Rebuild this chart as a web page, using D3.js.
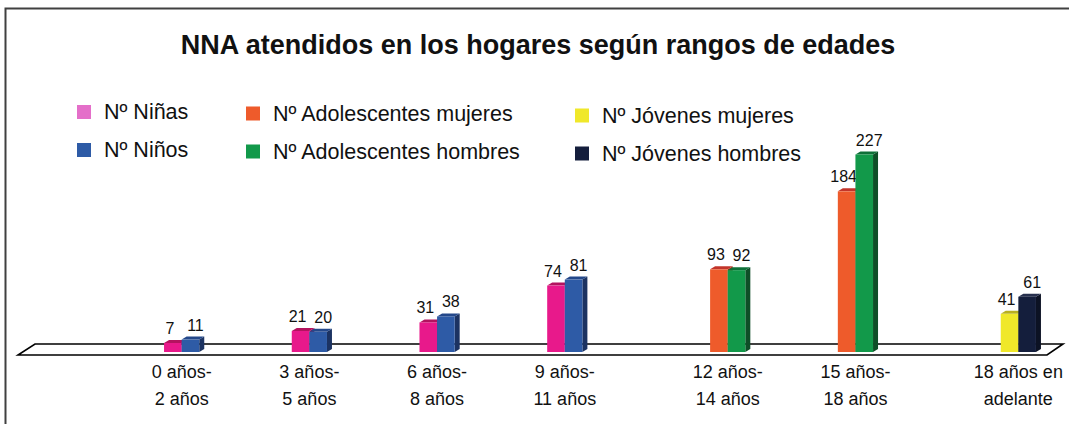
<!DOCTYPE html>
<html>
<head>
<meta charset="utf-8">
<script src="https://cdn.jsdelivr.net/npm/d3@7"></script>
<style>
  body { margin: 0; background: #fff; }
  text { font-family: "Liberation Sans", Arial, Helvetica, sans-serif; fill: #111; }
  .val { font-family: "Liberation Sans Narrow", "Arial Narrow", "Liberation Sans", sans-serif; }
</style>
</head>
<body>
<div id="chart"></div>
<script>
let width = 1069;
let height = 424;

// categories (two-line tick labels)
let categories = [
	["0 años-", "2 años"],
	["3 años-", "5 años"],
	["6 años-", "8 años"],
	["9 años-", "11 años"],
	["12 años-", "14 años"],
	["15 años-", "18 años"],
	["18 años en", "adelante"]
];
let seriesNames = ["Nº Niñas", "Nº Niños", "Nº Adolescentes mujeres", "Nº Adolescentes hombres", "Nº Jóvenes mujeres", "Nº Jóvenes hombres"];
let ninas = [7, 21, 31, 74, null, null, null];
let ninos = [11, 20, 38, 81, null, null, null];
let adolMujeres = [null, null, null, null, 93, 184, null];
let adolHombres = [null, null, null, null, 92, 227, null];
let jovMujeres = [null, null, null, null, null, null, 41];
let jovHombres = [null, null, null, null, null, null, 61];
let seriesValues = [ninas, ninos, adolMujeres, adolHombres, jovMujeres, jovHombres];

// front / side / top colours of each series, plus legend swatch colour
let colors = [
	{front: "#e8198b", side: "#8e0f55", top: "#b3135f", legend: "#e46fc9"},
	{front: "#2e5ba6", side: "#1c3362", top: "#24488a", legend: "#2e5ba6"},
	{front: "#ee5b2b", side: "#9c3415", top: "#c2352a", legend: "#ee5b2b"},
	{front: "#12994a", side: "#0e4e27", top: "#0e7038", legend: "#12994a"},
	{front: "#f0e82a", side: "#9a9418", top: "#b9b020", legend: "#f0e82a"},
	{front: "#141e3c", side: "#0c1224", top: "#27304e", legend: "#141e3c"}
];

let svg = d3.select("#chart")
	.append("svg")
	.attr("width", width).attr("height", height);

svg.append("rect").attr("width", width).attr("height", height).attr("fill", "#fff");

// frame
svg.append("rect")
	.attr("x", 5.5).attr("y", 8.5)
	.attr("width", 1200).attr("height", 600)
	.attr("fill", "none").attr("stroke", "#404040").attr("stroke-width", 2);

// title
svg.append("text")
	.attr("x", 538).attr("y", 54)
	.attr("text-anchor", "middle")
	.style("font-weight", "bold").style("font-size", "27px")
	.text("NNA atendidos en los hogares según rangos de edades");

// legend
let legendCols = [{x: 77, y: 112}, {x: 246, y: 113.5}, {x: 575, y: 115.5}];
let legend = svg.append("g").selectAll("g").data(seriesNames)
	.join("g")
	.attr("transform", (d, i) => `translate(${legendCols[Math.floor(i / 2)].x},${legendCols[Math.floor(i / 2)].y + (i % 2) * 38})`);
legend.append("rect")
	.attr("x", 0).attr("y", -7).attr("width", 14).attr("height", 14)
	.attr("fill", (d, i) => colors[i].legend);
legend.append("text")
	.attr("x", 27).attr("y", 7)
	.style("font-size", "21.5px")
	.text(d => d);

// scales
let baseY = 352;
let depthX = 5, depthY = 3;
let x = d3.scaleBand()
	.domain(d3.range(categories.length))
	.range([153, 1047])
	.paddingInner(0.173).paddingOuter(0.0865);
let xs = d3.scaleBand()
	.domain(d3.range(seriesNames.length))
	.range([0, x.bandwidth()]);
let y = d3.scaleLinear().domain([0, 227]).range([349, 154.5]);

// floor
let floorL = 18, floorR = 1047;
svg.append("path")
	.attr("d", `M${floorL},355 L${floorR},355 L${floorR + 16},344 L${floorL + 17},344 Z`)
	.attr("fill", "#fff").attr("stroke", "#000").attr("stroke-width", 1.6);

// bars
let bars = [];
categories.forEach((c, ci) => {
	let k = 0;
	seriesValues.forEach((s, si) => {
		if (s[ci] != null) {
			bars.push({cat: ci, series: si, value: s[ci], pos: k});
			k++;
		}
	});
});

let barG = svg.append("g").selectAll("g").data(bars)
	.join("g")
	.attr("transform", d => `translate(${x(d.cat) + xs(d.series)},0)`);
let bw = xs.bandwidth();

barG.append("path")
	.attr("d", d => `M${bw},${y(d.value)} L${bw + depthX},${y(d.value) - depthY} L${bw + depthX},${baseY - depthY} L${bw},${baseY} Z`)
	.attr("fill", d => colors[d.series].side);
barG.append("path")
	.attr("d", d => `M0,${y(d.value)} L${depthX},${y(d.value) - depthY} L${bw + depthX},${y(d.value) - depthY} L${bw},${y(d.value)} Z`)
	.attr("fill", d => colors[d.series].top);
barG.append("rect")
	.attr("x", 0).attr("y", d => y(d.value))
	.attr("width", bw).attr("height", d => baseY - y(d.value))
	.attr("fill", d => colors[d.series].front);

// value labels
barG.append("text")
	.attr("class", "val")
	.attr("x", d => d.pos == 0 ? bw / 2 - 3 : bw / 2 + 5)
	.attr("y", d => y(d.value) - 9)
	.attr("text-anchor", "middle")
	.style("font-size", "16px")
	.text(d => d.value);

// category labels, centred under each pair of bars
let labelG = svg.append("g").selectAll("text").data(categories)
	.join("text")
	.attr("text-anchor", "middle")
	.style("font-size", "18px")
	.attr("transform", (d, i) => {
		let xsIdx = bars.filter(b => b.cat == i).map(b => x(i) + xs(b.series) + bw / 2);
		return `translate(${d3.mean(xsIdx)},0)`;
	});
labelG.selectAll("tspan").data(d => d)
	.join("tspan")
	.attr("x", 0)
	.attr("y", (d, i) => 378 + i * 27)
	.text(d => d);
</script>
</body>
</html>
